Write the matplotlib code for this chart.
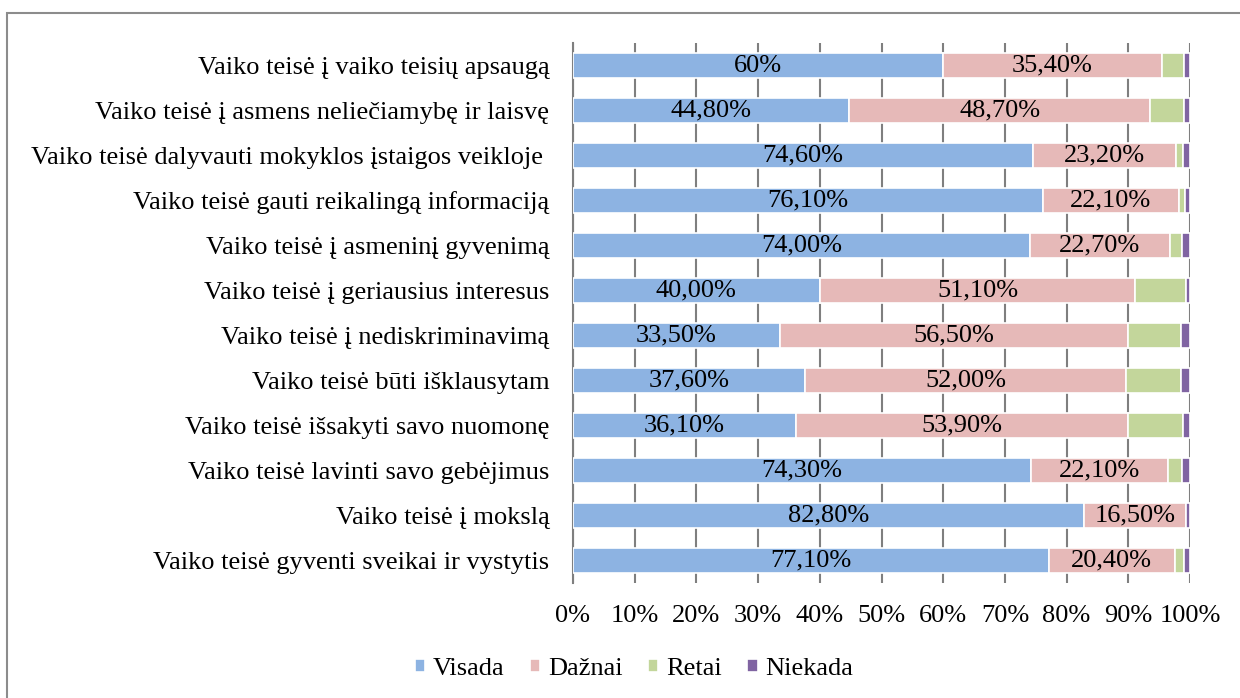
import matplotlib
matplotlib.use("Agg")
import matplotlib.pyplot as plt
from matplotlib.patches import Rectangle

categories = [
    "Vaiko teisė į vaiko teisių apsaugą",
    "Vaiko teisė į asmens neliečiamybę ir laisvę",
    "Vaiko teisė dalyvauti mokyklos įstaigos veikloje ",
    "Vaiko teisė gauti reikalingą informaciją",
    "Vaiko teisė į asmeninį gyvenimą",
    "Vaiko teisė į geriausius interesus",
    "Vaiko teisė į nediskriminavimą",
    "Vaiko teisė būti išklausytam",
    "Vaiko teisė išsakyti savo nuomonę",
    "Vaiko teisė lavinti savo gebėjimus",
    "Vaiko teisė į mokslą",
    "Vaiko teisė gyventi sveikai ir vystytis",
]
visada = [60.0, 44.8, 74.6, 76.1, 74.0, 40.0, 33.5, 37.6, 36.1, 74.3, 82.8, 77.1]
daznai = [35.4, 48.7, 23.2, 22.1, 22.7, 51.1, 56.5, 52.0, 53.9, 22.1, 16.5, 20.4]
retai = [3.6, 5.5, 1.0, 1.0, 2.0, 8.3, 8.6, 8.9, 8.8, 2.3, 0.0, 1.6]
niekada = [1.0, 1.0, 1.2, 0.8, 1.3, 0.6, 1.4, 1.5, 1.2, 1.3, 0.7, 0.9]
visada_labels = ["60%", "44,80%", "74,60%", "76,10%", "74,00%", "40,00%", "33,50%",
                 "37,60%", "36,10%", "74,30%", "82,80%", "77,10%"]
daznai_labels = ["35,40%", "48,70%", "23,20%", "22,10%", "22,70%", "51,10%", "56,50%",
                 "52,00%", "53,90%", "22,10%", "16,50%", "20,40%"]
series_names = ["Visada", "Dažnai", "Retai", "Niekada"]
colors = ["#8DB3E2", "#E6B9B8", "#C3D69B", "#8064A2"]
xticks = list(range(0, 101, 10))

plt.rcParams['font.family'] = ['Liberation Serif', 'DejaVu Serif']

FS = 19
fig = plt.figure(figsize=(12.4, 6.98), dpi=100)
W, H = 1240, 698
ax = fig.add_axes([573 / W, 1 - 583 / H, (1190 - 573) / W, (583 - 43) / H])

y = list(range(len(categories)))
bh = 0.55
left = [0.0] * len(categories)
data = [visada, daznai, retai, niekada]
conts = []
for vals, name, c in zip(data, series_names, colors):
    bars = ax.barh(y, vals, left=left, height=bh, color=c, edgecolor="white",
                   linewidth=1.2, label=name, zorder=3)
    conts.append(bars)
    left = [l + v for l, v in zip(left, vals)]

ax.bar_label(conts[0], labels=visada_labels, label_type="center", fontsize=FS, color="black")
ax.bar_label(conts[1], labels=daznai_labels, label_type="center", fontsize=FS, color="black")

ax.set_xlim(0, 100)
ax.set_ylim(len(categories) - 0.5, -0.5)
ax.set_yticks(y)
ax.set_yticklabels(categories, fontsize=FS)
ax.set_xticks(xticks)
ax.set_xticklabels([f"{t}%" for t in xticks], fontsize=FS)
ax.tick_params(axis="both", length=0)
ax.tick_params(axis="y", pad=17)
ax.tick_params(axis="x", pad=16)
ax.grid(axis="x", color="#7f7f7f", linewidth=1.5, zorder=0)
ax.set_axisbelow(True)
for s in ["top", "right", "bottom"]:
    ax.spines[s].set_visible(False)
ax.spines["left"].set_color("#7f7f7f")
ax.spines["left"].set_linewidth(1.5)

ax.legend(loc="center", bbox_to_anchor=(634 / W, 1 - 669 / H), bbox_transform=fig.transFigure,
          ncol=4, frameon=False, fontsize=FS, handlelength=0.4, handleheight=0.4,
          handletextpad=0.3, columnspacing=0.95)

fig.patches.append(Rectangle((7 / W, -0.01), 1.1, 1 - 13 / H + 0.01, transform=fig.transFigure,
                             fill=False, edgecolor="#8c8c8c", linewidth=1.5))

fig.savefig("out.png", dpi=100)
